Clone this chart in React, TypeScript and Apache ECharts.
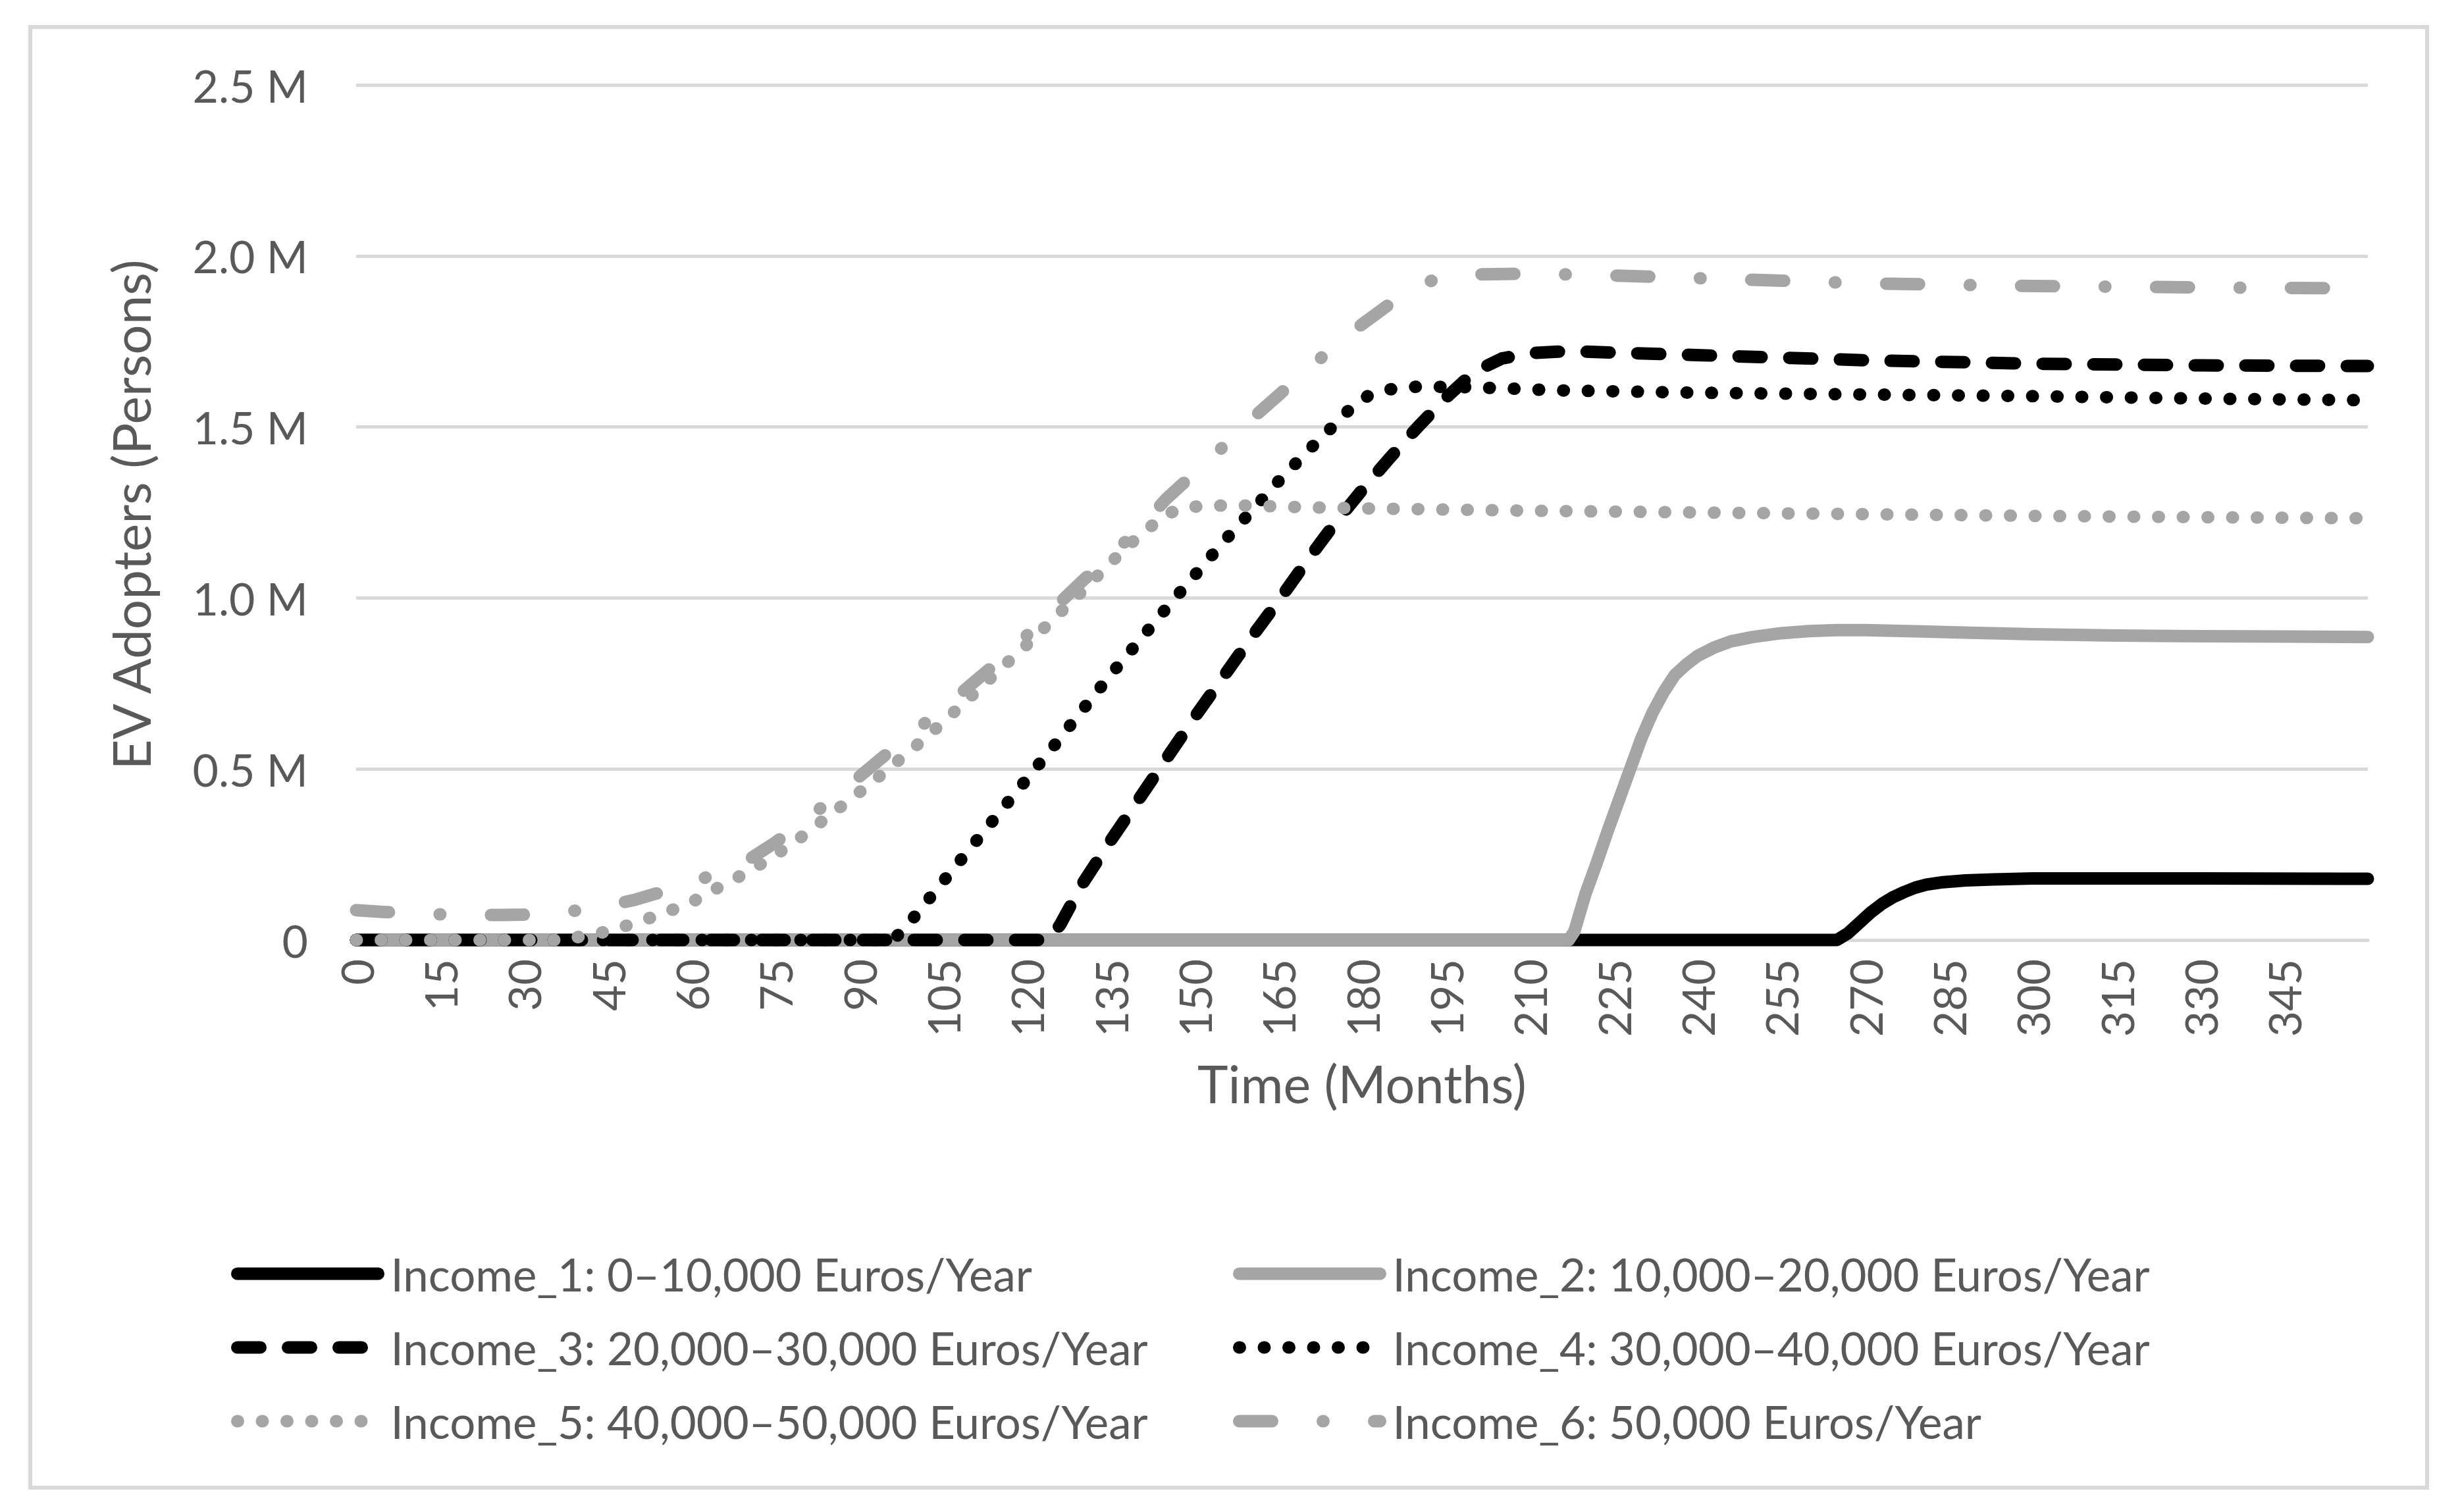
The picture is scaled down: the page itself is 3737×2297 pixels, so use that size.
import React, { useEffect, useRef } from "react";
import * as echarts from "echarts";

const FONT = "Lato, 'Open Sans', sans-serif";
const TEXT = "#595959";
const GRID = "#d9d9d9";
const BLACK = "#000000";
const GRAY = "#a5a5a5";

// x: month, y: persons
const income1: [number, number][] = [
  [0, 0], [265, 0], [267, 20000], [269, 50000], [271, 80000], [273, 105000], [275, 125000],
  [277, 140000], [279, 153000], [281, 162000], [284, 169000], [288, 174000], [293, 177000],
  [300, 180000], [330, 180000], [360, 179000],
];
const income2: [number, number][] = [
  [0, 0], [217, 0], [218, 25000], [220, 135000], [222, 225000], [224, 320000], [226, 410000],
  [228, 500000], [230, 590000], [232, 665000], [234, 725000], [236, 775000], [238, 805000],
  [240, 830000], [243, 855000], [246, 873000], [250, 886000], [255, 897000], [260, 903000],
  [265, 906000], [270, 906000], [280, 902000], [290, 898000], [300, 894000], [315, 890000],
  [330, 888000], [345, 887000], [360, 886000],
];
const income3: [number, number][] = [
  [0, 0], [124, 0], [126, 45000], [128, 105000], [130, 165000], [135, 290000], [140, 410000],
  [145, 530000], [150, 650000], [155, 765000], [160, 880000], [165, 990000], [170, 1105000],
  [175, 1215000], [180, 1315000], [185, 1410000], [190, 1500000], [195, 1585000], [200, 1660000],
  [205, 1700000], [210, 1716000], [215, 1720000], [220, 1720000], [240, 1710000], [270, 1695000],
  [300, 1685000], [330, 1680000], [360, 1678000],
];
const income4: [number, number][] = [
  [0, 0], [96, 0], [98, 30000], [100, 70000], [105, 170000], [110, 270000], [115, 370000],
  [120, 470000], [125, 570000], [130, 673000], [135, 775000], [140, 872000], [145, 970000],
  [150, 1065000], [155, 1160000], [160, 1250000], [165, 1340000], [170, 1425000], [175, 1505000],
  [178, 1555000], [181, 1590000], [185, 1610000], [190, 1618000], [200, 1616000], [215, 1607000],
  [240, 1600000], [270, 1595000], [300, 1590000], [330, 1583000], [360, 1578000],
];
const income5: [number, number][] = [
  [0, 0], [38, 0], [40, 10000], [45, 25000], [50, 50000], [55, 78000], [60, 110000], [65, 155000],
  [70, 198000], [75, 248000], [80, 305000], [85, 368000], [90, 431000], [95, 497000], [100, 565000],
  [105, 636000], [110, 712000], [115, 788000], [120, 863000], [125, 942000], [130, 1021000],
  [135, 1103000], [140, 1180000], [145, 1245000], [148, 1263000], [152, 1270000], [160, 1270000],
  [170, 1265000], [180, 1262000], [210, 1255000], [240, 1250000], [270, 1245000], [300, 1240000],
  [330, 1236000], [360, 1233000],
];
const income6: [number, number][] = [
  [0, 87000], [5, 82000], [10, 78000], [15, 75000], [20, 73000], [25, 73000], [30, 74000],
  [35, 78000], [40, 87000], [45, 100000], [50, 118000], [55, 142000], [60, 168000], [65, 197000],
  [70, 232000], [75, 285000], [80, 345000], [85, 410000], [90, 477000], [95, 545000], [100, 610000],
  [105, 678000], [110, 746000], [115, 815000], [120, 890000], [125, 972000], [130, 1050000],
  [135, 1125000], [140, 1200000], [145, 1290000], [150, 1365000], [155, 1440000], [160, 1520000],
  [165, 1592000], [170, 1664000], [175, 1735000], [180, 1800000], [185, 1860000], [190, 1915000],
  [195, 1940000], [200, 1946000], [210, 1948000], [220, 1945000], [240, 1935000], [270, 1920000],
  [300, 1912000], [330, 1908000], [360, 1905000],
];

const seriesNames = [
  "Income_1: 0\u201310,000 Euros/Year",
  "Income_2: 10,000\u201320,000 Euros/Year",
  "Income_3: 20,000\u201330,000 Euros/Year",
  "Income_4: 30,000\u201340,000 Euros/Year",
  "Income_5: 40,000\u201350,000 Euros/Year",
  "Income_6: 50,000 Euros/Year",
];
const seriesData = [income1, income2, income3, income4, income5, income6];
const seriesColors = [BLACK, GRAY, BLACK, BLACK, GRAY, GRAY];
const seriesDash: (string | number[])[] = [
  "solid",
  "solid",
  [35, 42],
  [1, 36.5],
  [1, 36.5],
  [50, 77, 1, 77],
];

const xTitle = "Time (Months)";
const yTitle = "EV Adopters (Persons)";

export default function App() {
  const ref = useRef<HTMLDivElement>(null);
  useEffect(() => {
    document.body.style.margin = "0";
    const chart = echarts.init(ref.current!, undefined, { renderer: "svg" });
    const legendCommon = {
      orient: "vertical",
      itemWidth: 214,
      itemHeight: 19,
      itemGap: 32,
      selectedMode: false,
      textStyle: { fontSize: 69, color: TEXT, fontFamily: FONT, lineHeight: 80, padding: [0, 0, 0, 14] },
      lineStyle: { width: "inherit" },
      itemStyle: { opacity: 0, borderWidth: 0 },
    };
    chart.setOption({
      animation: false,
      backgroundColor: "#ffffff",
      textStyle: { fontFamily: FONT },
      grid: { left: 541, top: 129, width: 3056, height: 1299, containLabel: false },
      xAxis: {
        type: "value",
        min: 0,
        max: 360,
        interval: 15,
        axisLine: { show: true, lineStyle: { color: GRID, width: 5 } },
        axisTick: { show: false },
        splitLine: { show: false },
        axisLabel: {
          rotate: 90,
          margin: 29,
          fontSize: 68,
          color: TEXT,
          fontFamily: FONT,
          showMaxLabel: false,
        },
      },
      yAxis: {
        type: "value",
        min: 0,
        max: 2500000,
        interval: 500000,
        axisLine: { show: false },
        axisTick: { show: false },
        splitLine: { show: true, lineStyle: { color: GRID, width: 5 } },
        axisLabel: {
          margin: 73,
          fontSize: 68,
          color: TEXT,
          fontFamily: FONT,
          formatter: (v: number) => (v === 0 ? "0" : (v / 1e6).toFixed(1) + " M"),
        },
      },
      legend: [
        { ...legendCommon, left: 346, top: 1890, data: [seriesNames[0], seriesNames[2], seriesNames[4]] },
        { ...legendCommon, left: 1868, top: 1890, data: [seriesNames[1], seriesNames[3], seriesNames[5]] },
      ],
      graphic: [
        {
          type: "rect",
          shape: { x: 46, y: 41, width: 3641, height: 2219 },
          style: { fill: "none", stroke: GRID, lineWidth: 6 },
          silent: true,
        },
        {
          type: "text",
          x: 2069,
          y: 1645,
          style: { text: xTitle, fontSize: 79, fill: TEXT, fontFamily: FONT, align: "center", verticalAlign: "middle" },
        },
        {
          type: "text",
          x: 198,
          y: 782,
          rotation: Math.PI / 2,
          style: { text: yTitle, fontSize: 80, fill: TEXT, fontFamily: FONT, align: "center", verticalAlign: "middle" },
        },
      ],
      series: seriesData.map((d, i) => ({
        name: seriesNames[i],
        type: "line",
        data: d,
        showSymbol: false,
        symbol: "none",
        clip: false,
        lineStyle: { color: seriesColors[i], width: 19, type: seriesDash[i], cap: "round", join: "round" },
        itemStyle: { color: seriesColors[i] },
        emphasis: { disabled: true },
      })),
    });
    return () => chart.dispose();
  }, []);
  return <div ref={ref} style={{ position: "fixed", left: 0, top: 0, width: 3737, height: 2297, background: "#fff" }} />;
}
